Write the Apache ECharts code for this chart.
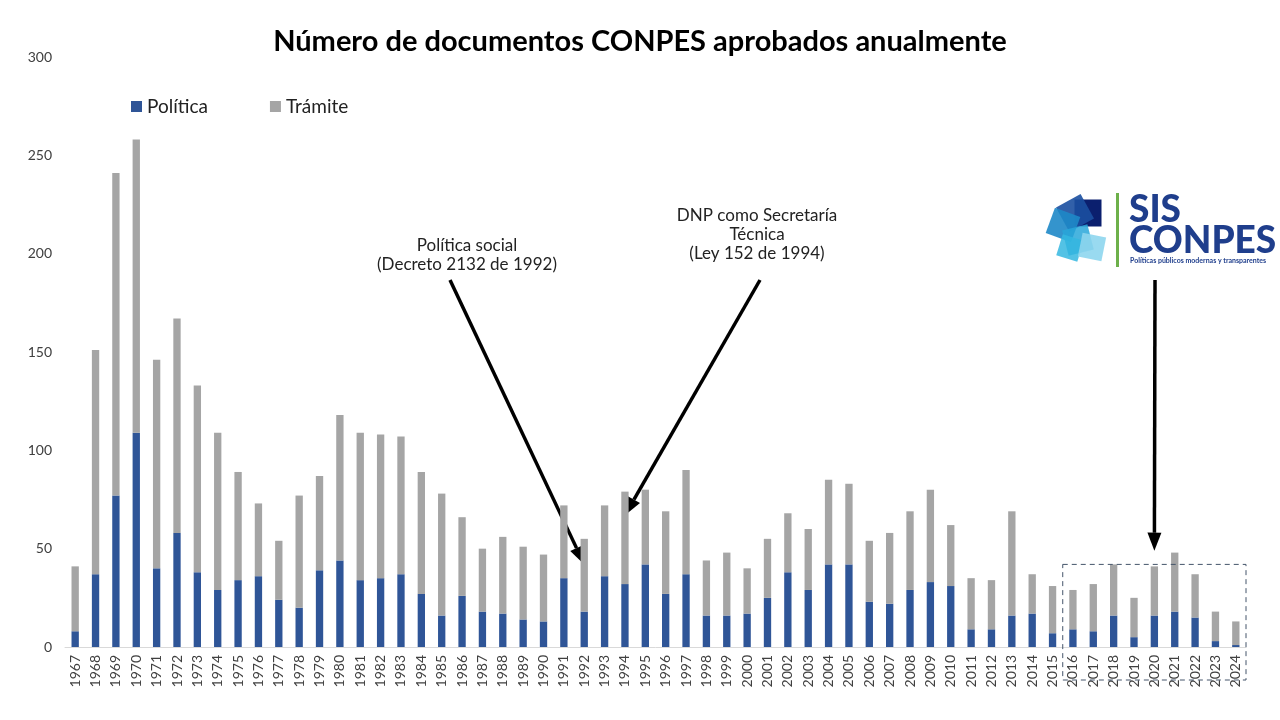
<!DOCTYPE html>
<html><head><meta charset="utf-8">
<script src="https://cdn.jsdelivr.net/npm/echarts@6/dist/echarts.min.js"></script>
<style>html,body{margin:0;padding:0;background:#fff}#c{width:1280px;height:720px}</style>
</head><body><div id="c"></div>
<script>
const years = ['1967','1968','1969','1970','1971','1972','1973','1974','1975','1976','1977','1978','1979','1980','1981','1982','1983','1984','1985','1986','1987','1988','1989','1990','1991','1992','1993','1994','1995','1996','1997','1998','1999','2000','2001','2002','2003','2004','2005','2006','2007','2008','2009','2010','2011','2012','2013','2014','2015','2016','2017','2018','2019','2020','2021','2022','2023','2024'];
const politica = [8,37,77,109,40,58,38,29,34,36,24,20,39,44,34,35,37,27,16,26,18,17,14,13,35,18,36,32,42,27,37,16,16,17,25,38,29,42,42,23,22,29,33,31,9,9,16,17,7,9,8,16,5,16,18,15,3,1];
const tramite = [33,114,164,149,106,109,95,80,55,37,30,57,48,74,75,73,70,62,62,40,32,39,37,34,37,37,36,47,38,42,53,28,32,23,30,30,31,43,41,31,36,40,47,31,26,25,53,20,24,20,24,26,20,25,30,22,15,12];
const yTicks = {min:0, max:300, interval:50};

const chart = echarts.init(document.getElementById('c'));
const font = 'Lato, "Noto Sans", sans-serif';
chart.setOption({
  animation:false,
  title:{text:'Número de documentos CONPES aprobados anualmente', left:'center', top:22,
    textStyle:{fontFamily:font, fontWeight:'bold', fontSize:29, color:'#000'}},
  legend:{top:92, left:126, itemWidth:11, itemHeight:11, itemGap:62, icon:'rect',
    textStyle:{fontFamily:font, fontSize:19, color:'#222'}, data:['Política','Trámite']},
  grid:{left:65, right:34, top:57, bottom:73},
  xAxis:{type:'category', data:years,
    axisLine:{lineStyle:{color:'#d9d9d9'}}, axisTick:{show:false},
    axisLabel:{rotate:90, interval:0, fontSize:14, color:'#404040', fontFamily:font, margin:8}},
  yAxis:{type:'value', min:yTicks.min, max:yTicks.max, interval:yTicks.interval,
    splitLine:{show:false}, axisLine:{show:false}, axisTick:{show:false},
    axisLabel:{fontSize:14, color:'#404040', fontFamily:font, margin:13}},
  series:[
    {name:'Política', type:'bar', stack:'t', data:politica, barWidth:'36%', itemStyle:{color:'#2F5597'}},
    {name:'Trámite', type:'bar', stack:'t', data:tramite, barWidth:'36%', itemStyle:{color:'#A5A5A5'}}
  ]
});

function arrow(x1,y1,x2,y2){
  const a=Math.atan2(y2-y1,x2-x1), L=18, W=7;
  const bx=x2-L*Math.cos(a), by=y2-L*Math.sin(a);
  const px=-Math.sin(a)*W, py=Math.cos(a)*W;
  return [
    {type:'line', shape:{x1:x1,y1:y1,x2:bx,y2:by}, style:{stroke:'#000', lineWidth:3.5}},
    {type:'polygon', shape:{points:[[x2,y2],[bx+px,by+py],[bx-px,by-py]]}, style:{fill:'#000'}}
  ];
}
const p92 = chart.convertToPixel({xAxisIndex:0,yAxisIndex:0},['1992',42]);
const p94 = chart.convertToPixel({xAxisIndex:0,yAxisIndex:0},['1994',67]);
const p20 = chart.convertToPixel({xAxisIndex:0,yAxisIndex:0},['2020',49]);
const pL = chart.convertToPixel({xAxisIndex:0,yAxisIndex:0},['2015',42]);
const pR = chart.convertToPixel({xAxisIndex:0,yAxisIndex:0},['2024',0]);
const half = (chart.convertToPixel({xAxisIndex:0},'2016') - chart.convertToPixel({xAxisIndex:0},'2015'))/2;
const txt = (x,y,t,extra)=>Object.assign({type:'text', x:x, y:y, style:{text:t, fontFamily:font, fontSize:17, fill:'#222', align:'center', lineHeight:19}},extra||{});

const g = [];
g.push(...arrow(450,280,p92[0],p92[1]));
g.push(...arrow(760,280,p94[0],p94[1]));
g.push(...arrow(1155,280,p20[0],p20[1]));
g.push(txt(467,236,'Política social\n(Decreto 2132 de 1992)'));
g.push(txt(757,206,'DNP como Secretaría\nTécnica\n(Ley 152 de 1994)'));
g.push({type:'rect', shape:{x:pL[0]+half, y:pL[1], width:pR[0]+half-(pL[0]+half), height:680-pL[1]},
  style:{fill:'none', stroke:'#44546A', lineWidth:1, lineDash:[5,4]}, z:10});
// logo
const sq=(cx,cy,s,rot,col,op)=>({type:'rect', x:cx, y:cy, rotation:rot, shape:{x:-s/2,y:-s/2,width:s,height:s}, style:{fill:col, opacity:op}});
g.push(sq(1088,213,27,0,'#0B1F6E',1));
g.push(sq(1075,213,28,0.5,'#1B4FA0',0.9));
g.push(sq(1063,225,27,-0.35,'#1E88C8',0.9));
g.push(sq(1078,240,26,0.25,'#29A7D9',0.85));
g.push(sq(1070,248,22,-0.3,'#35B7E0',0.85));
g.push(sq(1092,247,24,-0.2,'#8ED6EE',0.9));
g.push({type:'rect', shape:{x:1116,y:193,width:3,height:74}, style:{fill:'#6DB04A'}});
g.push({type:'text', x:1129, y:192, style:{text:'SIS', fontFamily:'Lato, sans-serif', fontWeight:900, fontSize:37, fill:'#1F3E8C'}});
g.push({type:'text', x:1129, y:223, style:{text:'CONPES', fontFamily:'Lato, sans-serif', fontWeight:900, fontSize:37, fill:'#1F3E8C'}});
g.push({type:'text', x:1130, y:257, style:{text:'Políticas públicos modernas y transparentes', fontFamily:'Lato, sans-serif', fontWeight:'bold', fontSize:7, fill:'#1F3E8C'}});
chart.setOption({graphic:g});
</script></body></html>
